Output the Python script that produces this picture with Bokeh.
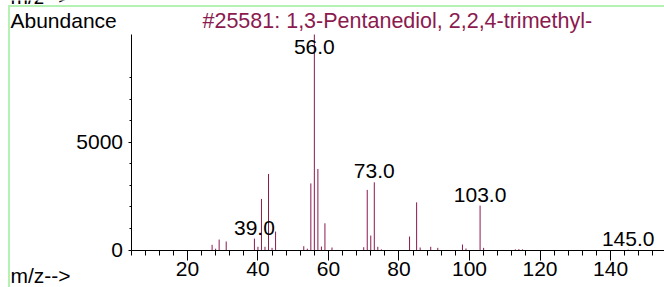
from bokeh.plotting import figure
from bokeh.models import Range1d, FixedTicker, SingleIntervalTicker, Label, ColumnDataSource
from bokeh.core.properties import value
from bokeh.embed import file_html
from bokeh.resources import INLINE

# ---- data ----
mz = [27, 28, 29, 31, 39, 40, 41, 42, 43, 44, 45, 53, 54, 55, 56, 57, 58, 59, 61,
      70, 71, 72, 73, 74, 75, 83, 85, 86, 89, 91, 98, 99, 103, 104, 113, 114, 115, 145]
abundance = [240, 60, 485, 395, 530, 150, 2370, 150, 3530, 100, 855, 175, 60, 3090, 9999, 3760, 160, 1240, 115,
             130, 2790, 670, 3140, 150, 30, 625, 2210, 115, 150, 100, 255, 70, 2060, 100, 30, 40, 30, 20]
labeled_mz = [39, 56, 73, 103, 145]
labeled_text = ["39.0", "56.0", "73.0", "103.0", "145.0"]
x_tick_labels = ["20", "40", "60", "80", "100", "120", "140"]
y_tick_labels = ["0", "5000"]
title_text = "#25581: 1,3-Pentanediol, 2,2,4-trimethyl-"
y_title = "Abundance"
x_title = "m/z-->"

# ---- layout (page pixels) ----
W, H = 664, 287
PLOT_L, PLOT_R, PLOT_T, PLOT_B = 130.5, 664, 34, 249.5
XMIN, XMAX = 4, 155.3
YMAX = 10000
FONT = "Liberation Sans"
FS = "21px"
BAR = "#8B1A4F"
GREEN = "#b4f2b4"
TEXT_SHIFT = 7  # renderer places alphabetic baselines this many px low

sx = (PLOT_R - PLOT_L) / (XMAX - XMIN)
sy = (PLOT_B - PLOT_T) / YMAX
x_start, x_end = XMIN - PLOT_L / sx, XMAX + (W - PLOT_R) / sx
y_start, y_end = -(H - PLOT_B) / sy, YMAX + PLOT_T / sy

p = figure(width=W, height=H, output_backend="svg", toolbar_location=None,
           x_range=Range1d(x_start, x_end), y_range=Range1d(y_start, y_end),
           min_border_left=0, min_border_right=0, min_border_top=0, min_border_bottom=0)
p.styles = {"background": (f"linear-gradient({GREEN},{GREEN}) 8px 5px / 2px 100% no-repeat, "
                           f"linear-gradient({GREEN},{GREEN}) 8px 5px / 100% 2px no-repeat, white")}
p.outline_line_color = None
p.xgrid.visible = False
p.ygrid.visible = False
p.background_fill_color = None
p.border_fill_color = None

p.segment(x0=mz, y0=[0] * len(mz), x1=mz, y1=abundance, line_color=BAR, line_width=1)

# peak labels
lookup = dict(zip(mz, abundance))
label_y = [min(lookup[m], YMAX - 1070) for m in labeled_mz]
src = ColumnDataSource(dict(x=labeled_mz, y=label_y, t=labeled_text))
p.text(x="x", y="y", text="t", source=src, text_align="center", text_baseline="alphabetic",
       y_offset=-4 - TEXT_SHIFT, text_font=value(FONT), text_font_size=FS, text_color="black")

# axes, fixed at the data origin of the spectrum
p.xaxis.fixed_location = 0
p.yaxis.fixed_location = XMIN
p.xaxis.bounds = (XMIN, XMAX)
p.yaxis.bounds = (0, YMAX)
p.xaxis.ticker = SingleIntervalTicker(interval=20, num_minor_ticks=5)
p.yaxis.ticker = FixedTicker(ticks=[int(s) for s in y_tick_labels],
                             minor_ticks=[1000, 2000, 3000, 4000, 6000, 7000, 8000])
for ax in (p.xaxis[0], p.yaxis[0]):
    ax.axis_line_color = "black"
    ax.major_tick_line_color = "black"
    ax.minor_tick_line_color = "black"
    ax.major_label_text_font = FONT
    ax.major_label_text_font_size = FS
    ax.major_label_text_color = "black"
    ax.major_tick_in = 0
    ax.minor_tick_in = 0
p.xaxis.major_tick_out = 10
p.xaxis.minor_tick_out = 5
p.xaxis.major_label_standoff = 2
p.yaxis.major_tick_out = 3
p.yaxis.minor_tick_out = 2
p.yaxis.major_label_standoff = 5


def add_label(px, py, text, color, size=FS):
    py = py - TEXT_SHIFT
    p.add_layout(Label(x=x_start + px / sx, y=y_start + (H - py) / sy,
                       text=text, text_font=FONT, text_font_size=size,
                       text_color=color, text_baseline="alphabetic"))


add_label(10, 27, y_title, "black")
add_label(202, 27, title_text, BAR, "21.5px")
add_label(10, 282, x_title, "black")
add_label(10, 3, x_title, "black")

open("out.html", "w").write(file_html(p, INLINE))
